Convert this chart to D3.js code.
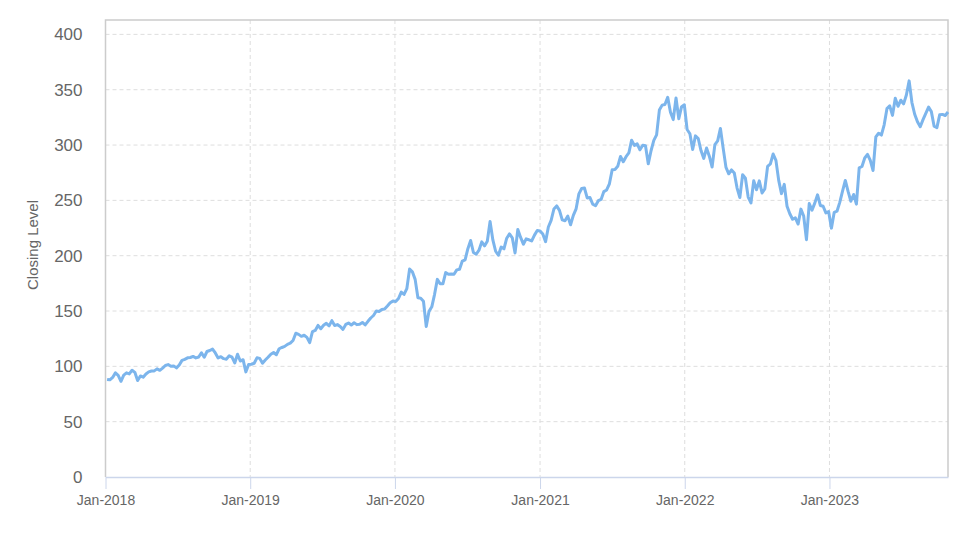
<!DOCTYPE html>
<html>
<head>
<meta charset="utf-8">
<script src="https://cdn.jsdelivr.net/npm/d3@7"></script>
<style>
  body { margin: 0; background: #fff; }
  text { font-family: "Liberation Sans", Arial, sans-serif; fill: #666; }
</style>
</head>
<body>
<div class="chart"></div>
<script>
// weekly closing levels, one array per year (first week ends 5 Jan 2018)
var close2018 = [88.2, 87.8, 90.0, 94.1, 91.8, 86.5, 92.0, 94.1, 93.1, 96.5, 94.6, 87.2, 91.3,
    90.2, 93.1, 95.0, 95.8, 95.9, 97.7, 96.4, 98.4, 100.8, 101.6, 100.1, 100.4, 98.6,
    101.2, 105.4, 106.3, 107.7, 108.0, 109.0, 107.6, 108.4, 112.3, 108.2, 113.4, 114.3, 115.6,
    112.1, 107.6, 108.7, 106.96, 106.5, 109.6, 108.3, 103.1, 110.9, 104.8, 106.0, 95.0, 101.6]
var close2019 = [101.9, 102.8, 107.7, 107.2, 102.8, 105.7, 108.2, 110.97, 112.5, 110.5, 115.9, 117.05, 118.0,
    119.9, 120.95, 123.4, 129.9, 128.9, 127.1, 128.1, 126.2, 121.5, 131.4, 132.45, 137.0, 133.96,
    137.1, 138.9, 136.6, 141.3, 136.9, 137.7, 136.1, 133.4, 137.9, 139.1, 137.3, 139.4, 137.7,
    138.1, 139.7, 137.4, 140.7, 143.7, 145.96, 149.97, 149.6, 151.4, 151.75, 154.5, 157.4, 158.96]
var close2020 = [158.6, 161.3, 167.1, 165.0, 170.2, 188.0, 185.4, 178.6, 162.0, 161.6, 158.8, 135.98, 149.7,
    153.8, 165.1, 178.6, 174.6, 174.6, 184.7, 183.2, 183.5, 183.25, 187.2, 187.7, 195.15, 196.3,
    206.3, 213.7, 202.9, 201.3, 205.0, 212.5, 208.9, 213.0, 231.0, 214.25, 204.0, 200.4, 207.8,
    206.2, 215.8, 219.7, 216.2, 202.5, 223.7, 216.5, 210.4, 215.2, 214.4, 213.3, 218.6, 222.75, 222.4]
var close2021 = [219.6, 212.65, 225.95, 231.96, 242.2, 244.99, 240.97, 232.4, 231.6, 235.75, 228.0, 236.5,
    242.35, 255.85, 260.7, 261.15, 252.2, 252.5, 246.5, 245.2, 249.7, 250.8, 257.9, 259.4, 265.0,
    277.65, 277.9, 280.75, 289.7, 284.9, 289.5, 292.85, 304.4, 299.7, 301.1, 295.7, 299.9, 299.35,
    283.0, 294.85, 304.2, 309.2, 331.6, 336.06, 336.7, 343.1, 329.7, 323.0, 342.5, 323.8, 334.7, 336.3]
var close2022 = [314.0, 310.2, 296.0, 308.3, 305.9, 295.0, 287.9, 297.3, 289.9, 280.1, 300.4, 303.7,
    315.0, 296.97, 279.8, 274.0, 277.5, 274.7, 261.1, 252.6, 273.2, 270.0, 252.99, 247.65, 267.7,
    259.6, 267.66, 256.7, 260.4, 280.7, 282.9, 291.9, 286.15, 268.1, 256.1, 264.5, 244.7, 237.9, 232.9,
    234.2, 228.6, 242.1, 235.9, 214.5, 247.1, 241.2, 247.5, 255.0, 245.4, 244.7, 238.7, 239.8]
var close2023 = [224.9, 239.2, 240.2, 248.2, 258.35, 268.0, 258.06, 249.2, 255.3, 246.6, 279.4, 280.6, 288.3,
    291.6, 286.1, 277.0, 307.3, 310.65, 308.97, 318.3, 332.9, 335.4, 326.8, 342.3, 335.0, 340.5,
    337.2, 345.2, 358.0, 338.4, 327.8, 321.0, 316.5, 322.98, 328.7, 334.3, 330.2, 317.0, 315.75,
    327.3, 327.7, 326.7, 329.8]

var yTicks = [0, 50, 100, 150, 200, 250, 300, 350, 400]
var xTickYears = [2018, 2019, 2020, 2021, 2022, 2023]

var values = [].concat(close2018, close2019, close2020, close2021, close2022, close2023)
var firstWeek = new Date(2018, 0, 5)
var data = values.map((v, i) => {
    return { date: d3.timeDay.offset(firstWeek, 7 * i), value: v }
})

var width = 974
var height = 547
var plotLeft = 105.5, plotRight = 948, plotTop = 20, plotBottom = 477

var svg = d3.select('.chart')
    .append('svg')
    .attr('width', width)
    .attr('height', height)

var xScale = d3.scaleTime()
    .domain([new Date(2018, 0, 1), data[data.length - 1].date])
    .range([plotLeft, plotRight])

var yScale = d3.scaleLinear().domain([0, 413]).range([plotBottom, plotTop])

var xTicks = xTickYears.map((y) => new Date(y, 0, 1))

// grid
svg.append('g')
    .selectAll('line')
    .data(yTicks.filter((d) => d > 0))
    .join('line')
    .attr('x1', plotLeft).attr('x2', plotRight)
    .attr('y1', (d) => yScale(d)).attr('y2', (d) => yScale(d))
    .attr('stroke', '#dedede')
    .attr('stroke-dasharray', '4,3')

svg.append('g')
    .selectAll('line')
    .data(xTicks.slice(1))
    .join('line')
    .attr('x1', (d) => xScale(d)).attr('x2', (d) => xScale(d))
    .attr('y1', plotTop).attr('y2', plotBottom)
    .attr('stroke', '#dedede')
    .attr('stroke-dasharray', '4,3')

// frame
svg.append('path')
    .attr('d', `M${plotLeft},${plotBottom}V${plotTop}H${plotRight}V${plotBottom}`)
    .attr('fill', 'none')
    .attr('stroke', '#cccccc')
    .attr('stroke-width', 1.5)

// x axis
const xAxis = d3.axisBottom(xScale)
    .tickValues(xTicks)
    .tickSize(12)
    .tickSizeOuter(0)
    .tickPadding(6)
    .tickFormat(d3.timeFormat('%b-%Y'))
var gx = svg.append('g').attr('transform', `translate(0, ${plotBottom})`).call(xAxis)
gx.select('.domain').attr('stroke', '#ccd6eb').attr('stroke-width', 1.5)
gx.selectAll('.tick line').attr('stroke', '#ccd6eb')
gx.selectAll('text').style('font-size', '14px').attr('fill', '#666')

// y axis
const yAxis = d3.axisLeft(yScale)
    .tickValues(yTicks)
    .tickSize(0)
    .tickPadding(23)
var gy = svg.append('g').attr('transform', `translate(${plotLeft}, 0)`).call(yAxis)
gy.select('.domain').remove()
gy.selectAll('text').style('font-size', '17px').attr('fill', '#666')

svg.append('text')
    .attr('transform', `translate(38, 245) rotate(-90)`)
    .attr('text-anchor', 'middle')
    .style('font-size', '15px')
    .text('Closing Level')

// line
var line = d3.line()
    .x((d) => xScale(d.date))
    .y((d) => yScale(d.value))

svg.append('path')
    .datum(data)
    .attr('d', line)
    .attr('fill', 'none')
    .attr('stroke', '#7cb5ec')
    .attr('stroke-width', 3)
    .attr('stroke-linejoin', 'round')
</script>
</body>
</html>
